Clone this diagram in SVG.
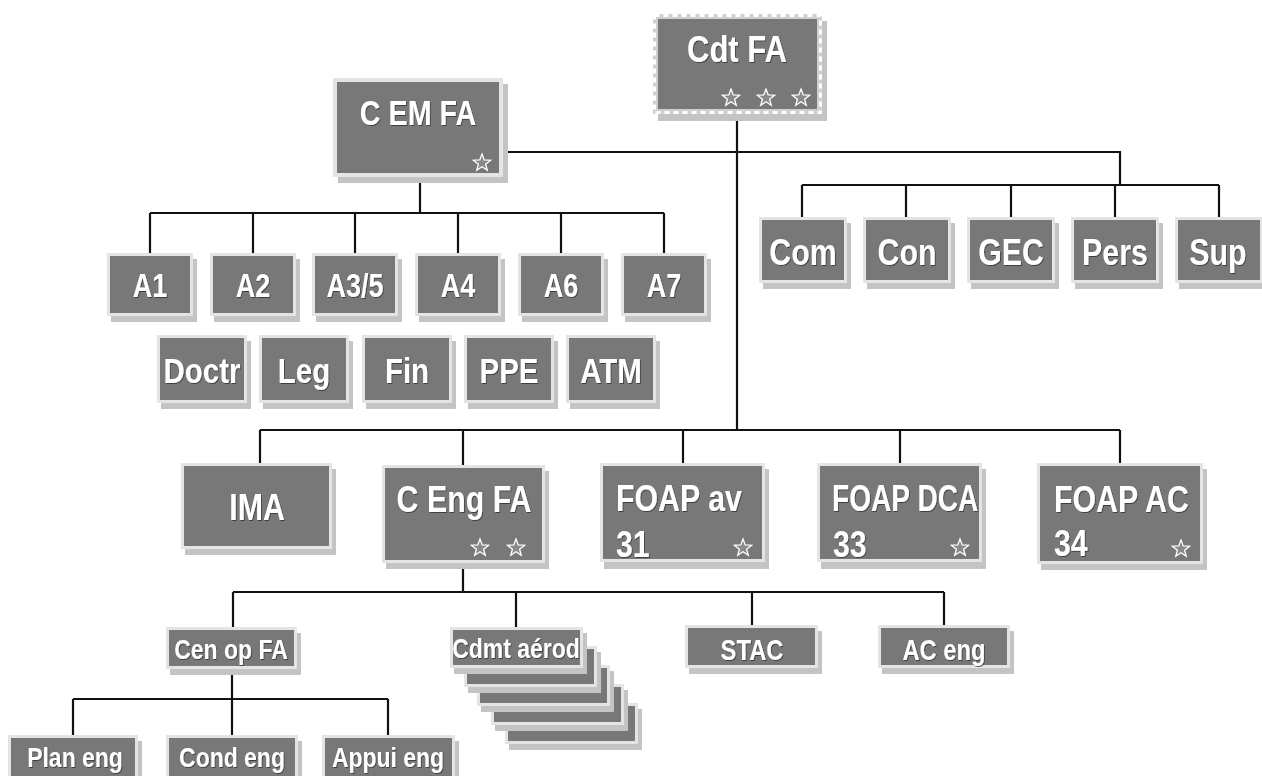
<svg xmlns="http://www.w3.org/2000/svg" width="1262" height="776" viewBox="0 0 1262 776">
<defs>
<style>
.sh{fill:#c4c4c4}
.fr{fill:#e4e4e4}
.in{fill:#787878}
.t{font-family:"Liberation Sans",Arial,sans-serif;font-weight:bold;fill:#ffffff;text-anchor:middle}
.tl{font-family:"Liberation Sans",Arial,sans-serif;font-weight:bold;fill:#ffffff;text-anchor:start}
.c{stroke:#111;stroke-width:2.2;fill:none}
.star{fill:#8a8a8a;stroke:#ffffff;stroke-width:1.3;stroke-linejoin:miter}
</style>
<path id="st" d="M0,-9 L2.23,-3.07 L8.56,-2.78 L3.61,1.17 L5.29,7.28 L0,3.8 L-5.29,7.28 L-3.61,1.17 L-8.56,-2.78 L-2.23,-3.07 Z"/>
<filter id="ts" x="-10%" y="-10%" width="130%" height="130%">
<feDropShadow dx="1" dy="1" stdDeviation="0.6" flood-color="#333" flood-opacity="0.8"/>
</filter>
</defs>
<rect width="1262" height="776" fill="#ffffff"/>

<g id="connectors">
<path class="c" d="M737,114 V430"/>
<path class="c" d="M503,152 H1120 V185"/>
<path class="c" d="M802,185 H1219 M802,185 V217 M906,185 V217 M1011,185 V217 M1115,185 V217 M1219,185 V217"/>
<path class="c" d="M420,177 V213 M150,213 H664 M150,213 V253 M253,213 V253 M355,213 V253 M458,213 V253 M561,213 V253 M664,213 V253"/>
<path class="c" d="M260,430 H1120 M260,430 V463 M463,430 V465 M683,430 V463 M900,430 V463 M1120,430 V463"/>
<path class="c" d="M463,563 V592 M233,592 H944 M233,592 V627 M516,592 V627 M752,592 V625 M944,592 V625"/>
<path class="c" d="M232,668 V699 M73,699 H388 M73,699 V735 M232,699 V735 M388,699 V735"/>
</g>

<g id="cdt-fa">
<rect class="sh" x="658" y="21" width="169" height="100"/>
<rect x="653" y="14" width="169" height="100" fill="#d0d0d0"/>
<rect x="654.5" y="15.5" width="166" height="97" fill="none" stroke="#ffffff" stroke-width="3" stroke-dasharray="5 4"/>
<rect class="in" x="658" y="19" width="159" height="90"/>
<text class="t" transform="matrix(0.84 0 0 1 737 62)" font-size="37" filter="url(#ts)">Cdt FA</text>
<use href="#st" class="star" x="731" y="98"/>
<use href="#st" class="star" x="766" y="98"/>
<use href="#st" class="star" x="801" y="98"/>
</g>

<g id="c-em-fa">
<rect class="sh" x="338" y="84" width="170" height="99"/>
<rect class="fr" x="333" y="78" width="170" height="99"/>
<rect class="in" x="337" y="82" width="162" height="91"/>
<text class="t" transform="matrix(0.82 0 0 1 418 125)" font-size="35" filter="url(#ts)">C EM FA</text>
<use href="#st" class="star" x="482" y="163"/>
</g>

<g id="a1"><rect class="sh" x="111" y="259" width="86" height="63"/><rect class="fr" x="107" y="253" width="86" height="63"/><rect class="in" x="110" y="256" width="80" height="57"/><text class="t" transform="matrix(0.82 0 0 1 150 297)" font-size="33" filter="url(#ts)">A1</text></g>
<g id="a2"><rect class="sh" x="214" y="259" width="86" height="63"/><rect class="fr" x="210" y="253" width="86" height="63"/><rect class="in" x="213" y="256" width="80" height="57"/><text class="t" transform="matrix(0.82 0 0 1 253 297)" font-size="33" filter="url(#ts)">A2</text></g>
<g id="a3-5"><rect class="sh" x="316" y="259" width="86" height="63"/><rect class="fr" x="312" y="253" width="86" height="63"/><rect class="in" x="315" y="256" width="80" height="57"/><text class="t" transform="matrix(0.82 0 0 1 355 297)" font-size="33" filter="url(#ts)">A3/5</text></g>
<g id="a4"><rect class="sh" x="419" y="259" width="86" height="63"/><rect class="fr" x="415" y="253" width="86" height="63"/><rect class="in" x="418" y="256" width="80" height="57"/><text class="t" transform="matrix(0.82 0 0 1 458 297)" font-size="33" filter="url(#ts)">A4</text></g>
<g id="a6"><rect class="sh" x="522" y="259" width="86" height="63"/><rect class="fr" x="518" y="253" width="86" height="63"/><rect class="in" x="521" y="256" width="80" height="57"/><text class="t" transform="matrix(0.82 0 0 1 561 297)" font-size="33" filter="url(#ts)">A6</text></g>
<g id="a7"><rect class="sh" x="625" y="259" width="86" height="63"/><rect class="fr" x="621" y="253" width="86" height="63"/><rect class="in" x="624" y="256" width="80" height="57"/><text class="t" transform="matrix(0.82 0 0 1 664 297)" font-size="33" filter="url(#ts)">A7</text></g>

<g id="doctr"><rect class="sh" x="161" y="341" width="90" height="68"/><rect class="fr" x="157" y="335" width="90" height="68"/><rect class="in" x="160" y="338" width="84" height="62"/><text class="t" transform="matrix(0.82 0 0 1 202 383)" font-size="36" filter="url(#ts)">Doctr</text></g>
<g id="leg"><rect class="sh" x="263" y="341" width="90" height="68"/><rect class="fr" x="259" y="335" width="90" height="68"/><rect class="in" x="262" y="338" width="84" height="62"/><text class="t" transform="matrix(0.82 0 0 1 304 383)" font-size="36" filter="url(#ts)">Leg</text></g>
<g id="fin"><rect class="sh" x="366" y="341" width="90" height="68"/><rect class="fr" x="362" y="335" width="90" height="68"/><rect class="in" x="365" y="338" width="84" height="62"/><text class="t" transform="matrix(0.82 0 0 1 407 383)" font-size="36" filter="url(#ts)">Fin</text></g>
<g id="ppe"><rect class="sh" x="468" y="341" width="90" height="68"/><rect class="fr" x="464" y="335" width="90" height="68"/><rect class="in" x="467" y="338" width="84" height="62"/><text class="t" transform="matrix(0.82 0 0 1 509 383)" font-size="36" filter="url(#ts)">PPE</text></g>
<g id="atm"><rect class="sh" x="570" y="341" width="90" height="68"/><rect class="fr" x="566" y="335" width="90" height="68"/><rect class="in" x="569" y="338" width="84" height="62"/><text class="t" transform="matrix(0.82 0 0 1 611 383)" font-size="36" filter="url(#ts)">ATM</text></g>

<g id="com"><rect class="sh" x="763" y="223" width="88" height="66"/><rect class="fr" x="759" y="217" width="88" height="66"/><rect class="in" x="762" y="220" width="82" height="60"/><text class="t" transform="matrix(0.82 0 0 1 803 265)" font-size="37" filter="url(#ts)">Com</text></g>
<g id="con"><rect class="sh" x="867" y="223" width="88" height="66"/><rect class="fr" x="863" y="217" width="88" height="66"/><rect class="in" x="866" y="220" width="82" height="60"/><text class="t" transform="matrix(0.82 0 0 1 907 265)" font-size="37" filter="url(#ts)">Con</text></g>
<g id="gec"><rect class="sh" x="971" y="223" width="88" height="66"/><rect class="fr" x="967" y="217" width="88" height="66"/><rect class="in" x="970" y="220" width="82" height="60"/><text class="t" transform="matrix(0.82 0 0 1 1011 265)" font-size="37" filter="url(#ts)">GEC</text></g>
<g id="pers"><rect class="sh" x="1075" y="223" width="88" height="66"/><rect class="fr" x="1071" y="217" width="88" height="66"/><rect class="in" x="1074" y="220" width="82" height="60"/><text class="t" transform="matrix(0.82 0 0 1 1115 265)" font-size="37" filter="url(#ts)">Pers</text></g>
<g id="sup"><rect class="sh" x="1179" y="223" width="88" height="66"/><rect class="fr" x="1175" y="217" width="88" height="66"/><rect class="in" x="1178" y="220" width="82" height="60"/><text class="t" transform="matrix(0.82 0 0 1 1218 265)" font-size="37" filter="url(#ts)">Sup</text></g>

<g id="ima"><rect class="sh" x="185" y="469" width="151" height="86"/><rect class="fr" x="181" y="463" width="151" height="86"/><rect class="in" x="184" y="466" width="145" height="80"/><text class="t" transform="matrix(0.82 0 0 1 257 520)" font-size="37" filter="url(#ts)">IMA</text></g>

<g id="c-eng-fa"><rect class="sh" x="386" y="471" width="163" height="98"/><rect class="fr" x="382" y="465" width="163" height="98"/><rect class="in" x="385" y="468" width="157" height="92"/><text class="t" transform="matrix(0.82 0 0 1 464 512)" font-size="37" filter="url(#ts)">C Eng FA</text>
<use href="#st" class="star" x="480" y="548"/><use href="#st" class="star" x="516" y="548"/></g>

<g id="foap-av-31"><rect class="sh" x="604" y="469" width="165" height="100"/><rect class="fr" x="600" y="463" width="165" height="99"/><rect class="in" x="603" y="466" width="159" height="93"/><text class="tl" transform="matrix(0.82 0 0 1 616 511)" font-size="37" filter="url(#ts)">FOAP av</text><text class="tl" transform="matrix(0.82 0 0 1 616 557)" font-size="37" filter="url(#ts)">31</text><use href="#st" class="star" x="743" y="548"/></g>

<g id="foap-dca-33"><rect class="sh" x="821" y="469" width="165" height="100"/><rect class="fr" x="817" y="463" width="165" height="99"/><rect class="in" x="820" y="466" width="159" height="93"/><text class="tl" transform="matrix(0.76 0 0 1 832 511)" font-size="37" filter="url(#ts)">FOAP DCA</text><text class="tl" transform="matrix(0.82 0 0 1 833 557)" font-size="37" filter="url(#ts)">33</text><use href="#st" class="star" x="960" y="548"/></g>

<g id="foap-ac-34"><rect class="sh" x="1041" y="469" width="166" height="101"/><rect class="fr" x="1037" y="463" width="166" height="101"/><rect class="in" x="1040" y="466" width="160" height="95"/><text class="tl" transform="matrix(0.82 0 0 1 1054 512)" font-size="37" filter="url(#ts)">FOAP AC</text><text class="tl" transform="matrix(0.82 0 0 1 1054 556)" font-size="37" filter="url(#ts)">34</text><use href="#st" class="star" x="1181" y="549"/></g>

<g id="cen-op-fa"><rect class="sh" x="170" y="633" width="131" height="42"/><rect class="fr" x="166" y="627" width="131" height="42"/><rect class="in" x="169" y="630" width="125" height="36"/><text class="t" transform="matrix(0.82 0 0 1 231 659)" font-size="28" filter="url(#ts)">Cen op FA</text></g>

<g id="cdmt-aerod">
<rect class="sh" x="509" y="709" width="133" height="41"/><rect class="fr" x="505" y="703" width="133" height="41"/><rect class="in" x="508" y="706" width="127" height="35"/>
<rect class="sh" x="495" y="690" width="133" height="41"/><rect class="fr" x="491" y="684" width="133" height="41"/><rect class="in" x="494" y="687" width="127" height="35"/>
<rect class="sh" x="481" y="671" width="133" height="41"/><rect class="fr" x="477" y="665" width="133" height="41"/><rect class="in" x="480" y="668" width="127" height="35"/>
<rect class="sh" x="468" y="652" width="133" height="41"/><rect class="fr" x="464" y="646" width="133" height="41"/><rect class="in" x="467" y="649" width="127" height="35"/>
<rect class="sh" x="454" y="633" width="133" height="41"/><rect class="fr" x="450" y="627" width="133" height="41"/><rect class="in" x="453" y="630" width="127" height="35"/>
<text class="t" transform="matrix(0.82 0 0 1 516 658)" font-size="28" filter="url(#ts)">Cdmt aérod</text>
</g>

<g id="stac"><rect class="sh" x="689" y="631" width="133" height="43"/><rect class="fr" x="685" y="625" width="133" height="43"/><rect class="in" x="688" y="628" width="127" height="37"/><text class="t" transform="matrix(0.82 0 0 1 752 660)" font-size="29" filter="url(#ts)">STAC</text></g>

<g id="ac-eng"><rect class="sh" x="882" y="631" width="132" height="43"/><rect class="fr" x="878" y="625" width="132" height="43"/><rect class="in" x="881" y="628" width="126" height="37"/><text class="t" transform="matrix(0.82 0 0 1 944 660)" font-size="29" filter="url(#ts)">AC eng</text></g>

<g id="plan-eng"><rect class="sh" x="12" y="741" width="130" height="45"/><rect class="fr" x="8" y="735" width="130" height="45"/><rect class="in" x="11" y="738" width="124" height="40"/><text class="t" transform="matrix(0.82 0 0 1 75 767)" font-size="28" filter="url(#ts)">Plan eng</text></g>
<g id="cond-eng"><rect class="sh" x="170" y="741" width="132" height="45"/><rect class="fr" x="166" y="735" width="132" height="45"/><rect class="in" x="169" y="738" width="126" height="40"/><text class="t" transform="matrix(0.82 0 0 1 232 767)" font-size="28" filter="url(#ts)">Cond eng</text></g>
<g id="appui-eng"><rect class="sh" x="326" y="741" width="133" height="45"/><rect class="fr" x="322" y="735" width="133" height="45"/><rect class="in" x="325" y="738" width="127" height="40"/><text class="t" transform="matrix(0.82 0 0 1 388 767)" font-size="28" filter="url(#ts)">Appui eng</text></g>
</svg>
